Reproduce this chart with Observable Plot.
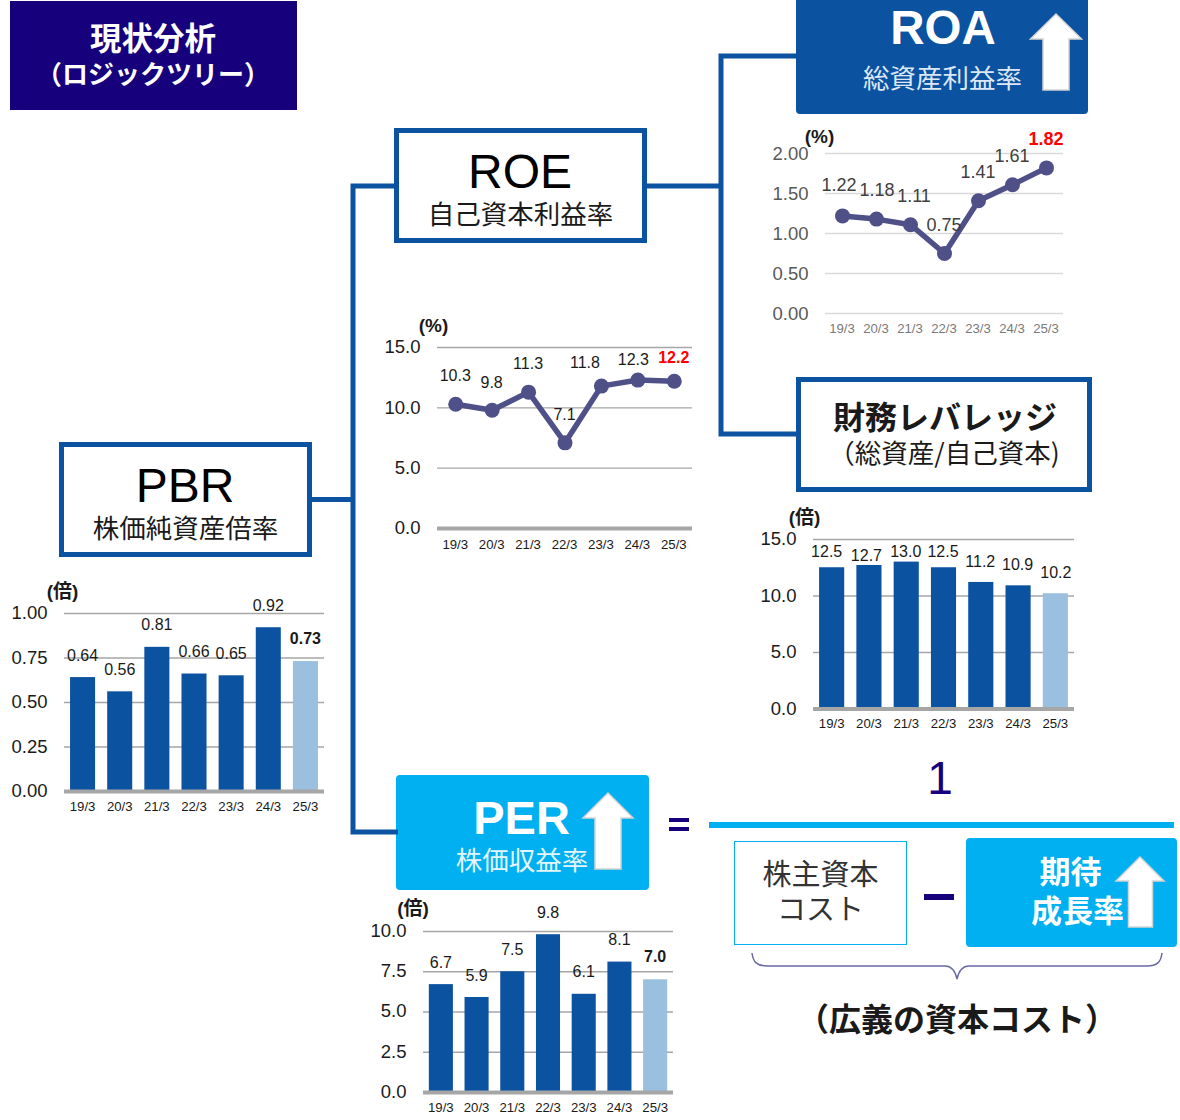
<!DOCTYPE html>
<html lang="ja">
<head>
<meta charset="utf-8">
<script src="https://cdn.jsdelivr.net/npm/d3@7"></script>
<script src="https://cdn.jsdelivr.net/npm/@observablehq/plot@0.6"></script>
<style>
html,body{margin:0;padding:0;background:#fff;}
#page{position:relative;width:1180px;height:1120px;overflow:hidden;background:#fff;font-family:"Liberation Sans","Noto Sans CJK JP",sans-serif;}
.box,.lbl,.plotwrap,.art{position:absolute;}
.box{box-sizing:border-box;}
.lbl{transform:translate(-50%,-50%);white-space:nowrap;line-height:1;}
.plotwrap svg{display:block;overflow:visible;background:transparent;}
</style>
</head>
<body>
<div id="page"></div>
<script>
// ---- data ----
const periods = ["19/3","20/3","21/3","22/3","23/3","24/3","25/3"];
const pbrValues = [0.64,0.56,0.81,0.66,0.65,0.92,0.73];
const roeValues = [10.3,9.8,11.3,7.1,11.8,12.3,12.2];
const roaValues = [1.22,1.18,1.11,0.75,1.41,1.61,1.82];
const leverageValues = [12.5,12.7,13.0,12.5,11.2,10.9,10.2];
const perValues = [6.7,5.9,7.5,9.8,6.1,8.1,7.0];
const pbrTicks = [0,0.25,0.5,0.75,1];
const roeTicks = [0,5,10,15];
const roaTicks = [0,0.5,1,1.5,2];
const leverageTicks = [0,5,10,15];
const perTicks = [0,2.5,5,7.5,10];

// ---- colours ----
const NAVY="#16007c", BLUE="#0b52a0", SKY="#00b0f0", PALE="#9abfdf", PURPLE="#4f5088", GRID="#a6a6a6", INK="#1a1a1a";
const JP='"Noto Sans CJK JP","Liberation Sans",sans-serif', LATIN='"Liberation Sans","Noto Sans CJK JP",sans-serif';
const page=document.getElementById("page");

function box(l,t,w,h,css){const d=document.createElement("div");d.className="box";
  d.style.cssText+=`left:${l}px;top:${t}px;width:${w}px;height:${h}px;${css||""}`;page.appendChild(d);return d;}
function label(text,cx,cy,size,opt={}){const d=document.createElement("div");d.className="lbl";d.textContent=text;
  d.style.cssText+=`left:${cx}px;top:${cy}px;font-size:${size}px;font-weight:${opt.weight||400};color:${opt.color||INK};font-family:${opt.font||JP};${opt.css||""}`;
  page.appendChild(d);return d;}
const NS="http://www.w3.org/2000/svg";
const art=document.createElementNS(NS,"svg");
art.setAttribute("class","art");art.setAttribute("width",1180);art.setAttribute("height",1120);art.style.cssText="left:0;top:0;";
page.appendChild(art);
function path(d,attrs){const p=document.createElementNS(NS,"path");p.setAttribute("d",d);
  for(const k in attrs)p.setAttribute(k,attrs[k]);art.appendChild(p);}
function upArrow(l,r,t,wing,sl,sr,b){const cx=(l+r)/2;
  path(`M${cx} ${t}L${r} ${wing}H${sr}V${b}H${sl}V${wing}H${l}Z`,{fill:"#fff",stroke:"#d4d4d4","stroke-width":1.5});}

// ---- chart factory ----
function chart(cfg){
  const mL=70,mT=40,mB=34,mR=12;
  const rows=periods.map((p,i)=>({p,v:cfg.values[i],i,latest:i===periods.length-1}));
  const W=cfg.right-cfg.left+mL+mR, H=cfg.bottom-cfg.top+mT+mB;
  const ink=cfg.ink||INK;
  const marks=[
    Plot.ruleY(cfg.ticks.filter(t=>t!==0),{y:d=>d,stroke:cfg.grid||GRID,strokeWidth:cfg.gridWidth||1.4})
  ];
  if(cfg.kind==="bar"){
    marks.push(Plot.barY(rows,{x:"p",y:"v",fill:d=>d.latest?"latest":"past"}));
  }
  marks.push(Plot.ruleY([0],{y:d=>d,stroke:cfg.grid||GRID,strokeWidth:cfg.baseWidth||4}));
  if(cfg.kind==="line"){
    marks.push(Plot.line(rows,{x:"p",y:"v",stroke:PURPLE,strokeWidth:5.5,strokeLinejoin:"round"}));
    marks.push(Plot.dot(rows,{x:"p",y:"v",r:7.5,fill:PURPLE,strokeWidth:0}));
  }
  rows.forEach((r,i)=>{
    const bold=r.latest&&cfg.latestBold;
    const [dx,dy]=cfg.nudges?cfg.nudges[i]:[-0.5,bold?-23:-22];
    marks.push(Plot.text([r],{x:"p",y:"v",text:d=>d3.format(cfg.fmt)(d.v),dx,dy,textAnchor:"middle",lineAnchor:"middle",
      fontSize:cfg.labelSize||16,
      fontWeight:bold?700:400,
      fill:r.latest&&cfg.latestColor?cfg.latestColor:(cfg.labelInk||ink)}));
  });
  marks.push(Plot.axisY({ticks:cfg.ticks,tickFormat:d3.format(cfg.fmt),tickSize:0,tickPadding:cfg.padY||17,fontSize:18.5,label:null,fill:ink,dy:cfg.axisDy||0}));
  marks.push(Plot.axisX({tickSize:0,tickPadding:cfg.padX||10,fontSize:13.2,label:null,fill:cfg.xInk||ink,dx:-0.5}));
  marks.push(Plot.text([cfg.unit],{frameAnchor:"top-left",dx:cfg.unitAt[0],dy:cfg.unitAt[1],text:d=>d,textAnchor:"middle",lineAnchor:"middle",fontSize:19,fontWeight:700,fill:INK}));
  const svg=Plot.plot({
    width:W,height:H,marginLeft:mL,marginRight:mR,marginTop:mT,marginBottom:mB,
    style:{fontFamily:LATIN,background:"transparent",overflow:"visible"},
    x:cfg.kind==="bar"?{type:"band",domain:periods,paddingInner:0.326,paddingOuter:0.163,align:0.5,round:false}
                      :{type:"point",domain:periods,padding:0.5,align:0.5,round:false},
    y:{domain:[0,cfg.max],nice:false},
    color:{domain:["past","latest"],range:[BLUE,PALE]},
    marks
  });
  const wrap=document.createElement("div");wrap.className="plotwrap";
  wrap.style.left=(cfg.left-mL)+"px";wrap.style.top=(cfg.top-mT)+"px";
  wrap.appendChild(svg);page.appendChild(wrap);
}

// ---- connectors & brace ----
const conn={fill:"none",stroke:BLUE,"stroke-width":5};
path("M398 186H353V832H398",conn);
path("M312 499.5H353",conn);
path("M647 186H721",conn);
path("M796 56H721V434H796",conn);
path("M752 953C753 962 757 966 767 966H945C951 966 955 970 957 979C959 970 963 966 969 966H1147C1157 966 1161 962 1162 953",{fill:"none",stroke:"#6a6aa5","stroke-width":1.5});

// ---- boxes ----
box(10,1,287,109,`background:${NAVY};`);
label("現状分析",153,36.5,31.5,{weight:700,color:"#fff"});
label("（ロジックツリー）",153,72.5,26,{weight:700,color:"#fff"});

box(394,128,253,115,`background:#fff;border:5px solid ${BLUE};`);
label("ROE",520,172,48,{font:LATIN,color:"#000"});
label("自己資本利益率",520.5,212.5,26.5);

box(59,442,253,115,`background:#fff;border:5px solid ${BLUE};`);
label("PBR",185,486,48,{font:LATIN,color:"#000"});
label("株価純資産倍率",185.5,526.5,26.5);

box(796,0,292,114,`background:${BLUE};border-radius:0 0 4px 4px;`);
label("ROA",943,28,47.5,{weight:700,color:"#fff",font:LATIN});
label("総資産利益率",942.5,77,26.5,{color:"#dce8f6"});

box(796,377,296,115,`background:#fff;border:5px solid ${BLUE};`);
label("財務レバレッジ",945,414.5,32,{weight:700});
label("（総資産/自己資本)",944,452,26.5);

box(396,775,253,115,`background:${SKY};border-radius:4px;`);
label("PER",521.5,817,47,{weight:700,color:"#fff",font:LATIN});
label("株価収益率",522,859,26.5,{color:"#e3f5fd"});

box(669,818,20,4,`background:${NAVY};`);
box(669,827,20,4,`background:${NAVY};`);
label("1",940,778,46,{color:NAVY,font:LATIN});
box(709,822,465,6,`background:${SKY};`);

box(734,841,173,104,`background:#fff;border:1.5px solid ${SKY};`);
label("株主資本",820.5,871.5,29,{color:"#333"});
label("コスト",820.5,906.5,29,{color:"#333"});
box(924,894,30,6,`background:${NAVY};`);
box(966,838,211,109,`background:${SKY};border-radius:4px;`);
label("期待",1070.5,868.5,31,{weight:700,color:"#fff"});
label("成長率",1077.5,908,31,{weight:700,color:"#fff"});
label("（広義の資本コスト）",957,1017,32,{weight:700});

// arrows sit over the filled boxes
page.appendChild(art);
upArrow(1030.5,1081.5,14,39,1043,1069,90);
upArrow(583,633,793,818,595,621,869);
upArrow(1116,1164,857,881,1128.5,1152.5,927);

// ---- charts ----
chart({kind:"bar",left:64,right:324,top:613,bottom:791,values:pbrValues,ticks:pbrTicks,max:1,fmt:".2f",unit:"(倍)",unitAt:[-2,-22],latestBold:true});
chart({kind:"line",left:437,right:692,top:347,bottom:528,values:roeValues,ticks:roeTicks,max:15,fmt:".1f",unit:"(%)",unitAt:[-4,-22],padY:17,padX:11,latestBold:true,latestColor:"#ff0000",
  nudges:[[-0.5,-28],[-0.5,-27],[-0.5,-28],[-0.5,-27.5],[-16.5,-23],[-4.5,-20],[-0.5,-23]]});
chart({kind:"line",left:825,right:1063,top:153,bottom:313,values:roaValues,ticks:roaTicks,max:2,fmt:".2f",unit:"(%)",unitAt:[-6,-17],axisDy:0.5,latestBold:true,latestColor:"#ff0000",
  ink:"#595959",labelInk:"#404040",xInk:"#7a7a7a",grid:"#d9d9d9",gridWidth:1.6,baseWidth:1.6,labelSize:18,
  nudges:[[-3.5,-30.5],[0.5,-29],[3.5,-28],[-0.5,-28],[-0.5,-28],[-0.5,-28],[-0.5,-28.6]]});
chart({kind:"bar",left:813,right:1074,top:539,bottom:708.5,values:leverageValues,ticks:leverageTicks,max:15,fmt:".1f",unit:"(倍)",unitAt:[-9,-22],padY:17,
  nudges:[[-5.5,-16],[-3,-10],[-1,-10.5],[-1,-15.5],[-1,-20.5],[-1,-20.5],[0,-21]]});
chart({kind:"bar",left:423,right:673,top:930.5,bottom:1091.5,values:perValues,ticks:perTicks,max:10,fmt:".1f",unit:"(倍)",unitAt:[-10.5,-23],padY:17,axisDy:-0.5,latestBold:true});
</script>
</body>
</html>
